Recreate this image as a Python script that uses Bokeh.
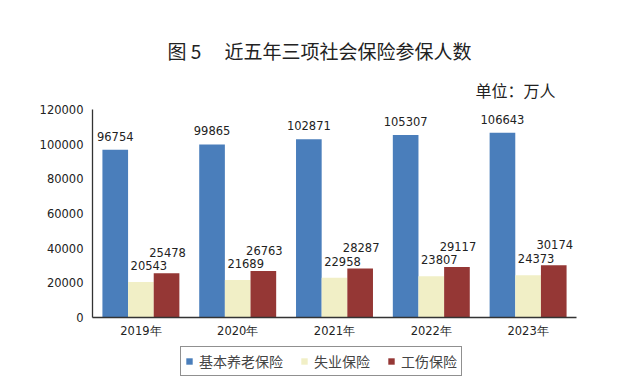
from bokeh.plotting import figure
from bokeh.layouts import column
from bokeh.models import (ColumnDataSource, FactorRange, Legend, LegendItem, Title,
                          BasicTickFormatter, FixedTicker)
from bokeh.transform import dodge
from bokeh.core.properties import value
from bokeh.embed import file_html
from bokeh.resources import INLINE

years = ["2019年", "2020年", "2021年", "2022年", "2023年"]
pension = [96754, 99865, 102871, 105307, 106643]
unemployment = [20543, 21689, 22958, 23807, 24373]
injury = [25478, 26763, 28287, 29117, 30174]
series_names = ["基本养老保险", "失业保险", "工伤保险"]
colors = ["#4a7ebb", "#f1efc6", "#953735"]
y_ticks = [0, 20000, 40000, 60000, 80000, 100000, 120000]

src = ColumnDataSource(dict(
    x=years, pension=pension, unemployment=unemployment, injury=injury,
    pension_t=[str(v) for v in pension],
    unemployment_t=[str(v) for v in unemployment],
    injury_t=[str(v) for v in injury],
))

W = 640
H1 = 342
H2 = 45
p = figure(width=W, height=H1, x_range=FactorRange(*years, range_padding=0),
           y_range=(0, 120000), output_backend="svg", toolbar_location=None,
           min_border_left=92, min_border_right=64, min_border_top=109,
           min_border_bottom=25)
p.outline_line_color = None
p.grid.grid_line_color = None

bw = 0.265
keys = ["pension", "unemployment", "injury"]
offs = [-bw, 0, bw]
for k, o, c in zip(keys, offs, colors):
    p.vbar(x=dodge("x", o, range=p.x_range), top=k, width=bw, source=src,
           fill_color=c, line_color=None)

lab_dx = [0, 8, 1]
lab_dy = [-9, -12, -16]
for k, o, dx, dy in zip(keys, offs, lab_dx, lab_dy):
    p.text(x=dodge("x", o, range=p.x_range), y=k, text=k + "_t", source=src,
           text_align="center", text_baseline="bottom", x_offset=dx, y_offset=dy,
           text_font=value("DejaVu Sans"), text_font_size="11.5px", text_color="#222222")

p.yaxis.ticker = FixedTicker(ticks=y_ticks)
p.yaxis.formatter = BasicTickFormatter(use_scientific=False)
p.yaxis.major_tick_line_color = None
p.yaxis.minor_tick_line_color = None
p.xaxis.major_tick_line_color = None
p.axis.axis_line_color = "#333333"
p.axis.axis_line_width = 1.3
p.axis.major_label_text_font = "DejaVu Sans"
p.axis.major_label_text_font_size = "11.5px"
p.axis.major_label_text_color = "#222222"
p.yaxis.major_label_standoff = 3
p.xaxis.major_label_standoff = 0

p.add_layout(Title(text="单位：万人", align="right", offset=21, standoff=15,
                   text_font="Noto Sans CJK SC", text_font_style="normal",
                   text_font_size="16px", text_color="#222222"), "above")
p.add_layout(Title(text="图 5 \u3000近五年三项社会保险参保人数", align="left", offset=75,
                   text_font="Noto Sans CJK SC", text_font_style="normal",
                   text_font_size="19px", text_color="#222222"), "above")

# legend strip below the chart (proxy renderers of zero width for the legend glyphs)
p2 = figure(width=W, height=H2, x_range=FactorRange(*years), y_range=(-2, -1),
            output_backend="svg", toolbar_location=None, min_border=0,
            x_axis_location=None, y_axis_location=None)
p2.grid.grid_line_color = None
p2.outline_line_color = None
leg_r = [p2.vbar(x="x", top=k, width=0, source=src, fill_color=c, line_color=None)
         for k, c in zip(keys, colors)]
legend = Legend(items=[LegendItem(label=n, renderers=[r]) for n, r in zip(series_names, leg_r)],
                orientation="horizontal", location=(88, 11),
                label_text_font="Noto Sans CJK SC", label_text_font_size="14px",
                label_text_color="#444444", glyph_width=8, glyph_height=8,
                spacing=17, padding=4, margin=0, label_standoff=6,
                border_line_color="#222222", border_line_width=1.3,
                background_fill_alpha=1)
p2.add_layout(legend)

open("out.html", "w").write(file_html(column(p, p2, spacing=0), INLINE))
